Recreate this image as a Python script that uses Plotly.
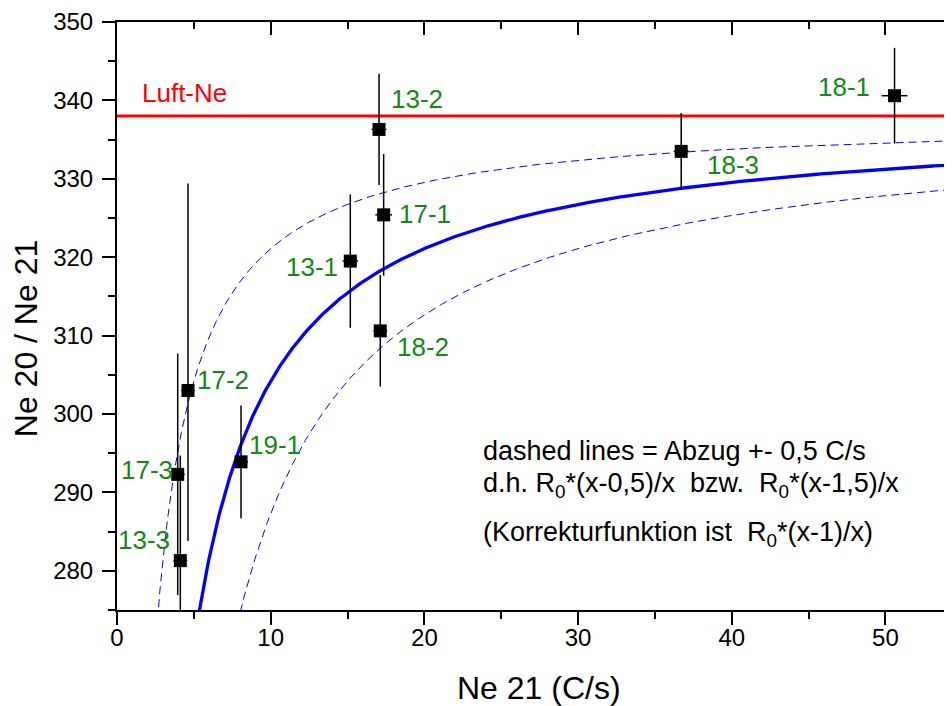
import numpy as np
import plotly.graph_objects as go

# ---- data ----
sample_labels = ["13-3", "17-3", "17-2", "19-1", "13-1", "13-2", "18-2", "17-1", "18-3", "18-1"]
ne21 = [4.12, 3.95, 4.62, 8.07, 15.18, 17.05, 17.13, 17.35, 36.71, 50.59]
ne20_ne21 = [281.3, 292.3, 303.0, 293.9, 319.5, 336.3, 310.6, 325.4, 333.5, 340.6]
err_up = [13.4, 15.4, 26.4, 7.2, 8.5, 7.1, 7.1, 7.75, 4.9, 6.1]
err_down = [13.4, 15.4, 19.2, 7.2, 8.5, 7.1, 7.1, 7.75, 4.9, 6.1]
err_x = [0.45, 0.45, 0.45, 0.45, 0.5, 0.48, 0.45, 0.54, 0.49, 0.84]

# label positions (data coords) and anchors
label_x = [3.56, 3.78, 5.09, 8.48, 14.51, 17.69, 18.12, 18.23, 38.29, 49.1]
label_y = [283.9, 292.9, 304.4, 296.0, 318.8, 340.2, 308.6, 325.5, 331.7, 341.7]
label_anchor = ["right", "right", "left", "left", "right", "left", "left", "left", "left", "right"]

R0 = 338.0            # Luft-Ne ratio
luft_ne = 338.0
offsets = [0.5, 1.0, 1.5]   # Abzug (C/s)

x_range = [0, 54.85]
y_range = [275, 350]
x_ticks = [0, 10, 20, 30, 40, 50]
y_ticks = [280, 290, 300, 310, 320, 330, 340, 350]

x_title = "Ne 21 (C/s)"
y_title = "Ne 20 / Ne 21"

FONT = "Liberation Sans, Arial, sans-serif"
GREEN = "#138a13"

fig = go.Figure()

xc = np.linspace(0.3, 60, 1200)
for off in offsets:
    yc = R0 * (xc - off) / xc
    if off == 1.0:
        line = dict(color="#0000ff", width=3.3)
    else:
        line = dict(color="#0000ff", width=1, dash="8px,5px")
    fig.add_trace(go.Scatter(x=xc, y=yc, mode="lines", line=line,
                             showlegend=False, hoverinfo="skip"))

fig.add_trace(go.Scatter(x=[x_range[0], 60], y=[luft_ne, luft_ne], mode="lines",
                         line=dict(color="#ff0000", width=3), showlegend=False))

fig.add_trace(go.Scatter(
    x=ne21, y=ne20_ne21, mode="markers",
    marker=dict(symbol="square", size=13, color="black", line=dict(width=0)),
    error_y=dict(type="data", symmetric=False, array=err_up, arrayminus=err_down,
                 color="black", thickness=1.5, width=0),
    error_x=dict(type="data", array=err_x, color="black", thickness=1.5, width=0),
    showlegend=False, cliponaxis=True))

# dummy trace for the mirror axes
fig.add_trace(go.Scatter(x=[None], y=[None], xaxis="x2", yaxis="y2",
                         showlegend=False, hoverinfo="skip"))

annotations = []
for lx, ly, t, anc in zip(label_x, label_y, sample_labels, label_anchor):
    annotations.append(dict(x=lx, y=ly, xref="x", yref="y", text=t, showarrow=False,
                            xanchor=anc, yanchor="middle",
                            font=dict(family=FONT, size=26, color=GREEN)))
annotations.append(dict(x=1.49, y=340.94, xref="x", yref="y", text="Luft-Ne", showarrow=False,
                        xanchor="left", yanchor="middle",
                        font=dict(family=FONT, size=26, color="#ff0000")))

NB = "\u00a0"
note_lines = [
    "dashed lines = Abzug +- 0,5 C/s",
    "d.h. R<sub>0</sub>*(x-0,5)/x" + NB * 2 + "bzw." + NB * 2 + "R<sub>0</sub>*(x-1,5)/x",
    "(Korrekturfunktion ist" + NB * 2 + "R<sub>0</sub>*(x-1)/x)",
]
note_y = [297.45, 293.4, 287.1]
for t, yy in zip(note_lines, note_y):
    annotations.append(dict(x=23.7, y=yy, xref="x", yref="y", text=t, showarrow=False,
                            xanchor="left", yanchor="top",
                            font=dict(family=FONT, size=27, color="black")))

# axis titles (paper coords relative to the plot area)
annotations.append(dict(x=0.5, y=-0.132, xref="paper", yref="paper", text=x_title,
                        showarrow=False, xanchor="center", yanchor="middle",
                        font=dict(family=FONT, size=32, color="black")))
annotations.append(dict(x=-0.107, y=0.4619, xref="paper", yref="paper", text=y_title,
                        showarrow=False, xanchor="center", yanchor="middle", textangle=-90,
                        font=dict(family=FONT, size=32, color="black")))

axis_common = dict(showgrid=False, zeroline=False, showline=True, linecolor="black",
                   linewidth=2, tickcolor="black", tickwidth=2)

fig.update_layout(
    width=952, height=698,
    margin=dict(l=109, r=0, t=12, b=96),
    paper_bgcolor="white", plot_bgcolor="white",
    font=dict(family=FONT, color="black"),
    showlegend=False,
    xaxis=dict(range=x_range, tickvals=x_ticks, ticks="outside", ticklen=13, ticklabelstandoff=-8,
               ticklabeloverflow="allow",
               minor=dict(ticks="outside", ticklen=7, dtick=5, tick0=0, tickwidth=2, tickcolor="black"),
               tickfont=dict(size=24), **axis_common),
    yaxis=dict(range=y_range, tickvals=y_ticks, ticks="outside", ticklen=13, ticklabelstandoff=4,
               ticklabeloverflow="allow",
               minor=dict(ticks="outside", ticklen=7, dtick=5, tick0=0, tickwidth=2, tickcolor="black"),
               tickfont=dict(size=24), **axis_common),
    xaxis2=dict(range=x_range, overlaying="x", side="top", tickvals=x_ticks, ticks="inside",
                ticklen=13, showticklabels=False,
                minor=dict(ticks="inside", ticklen=7, dtick=5, tick0=0, tickwidth=2, tickcolor="black"),
                **axis_common),
    yaxis2=dict(range=y_range, overlaying="y", side="right", tickvals=y_ticks, ticks="inside",
                ticklen=13, showticklabels=False, showgrid=False, zeroline=False, showline=True,
                linecolor="black", linewidth=2, tickcolor="black", tickwidth=2),
    annotations=annotations,
)

fig.write_html("out.html")
